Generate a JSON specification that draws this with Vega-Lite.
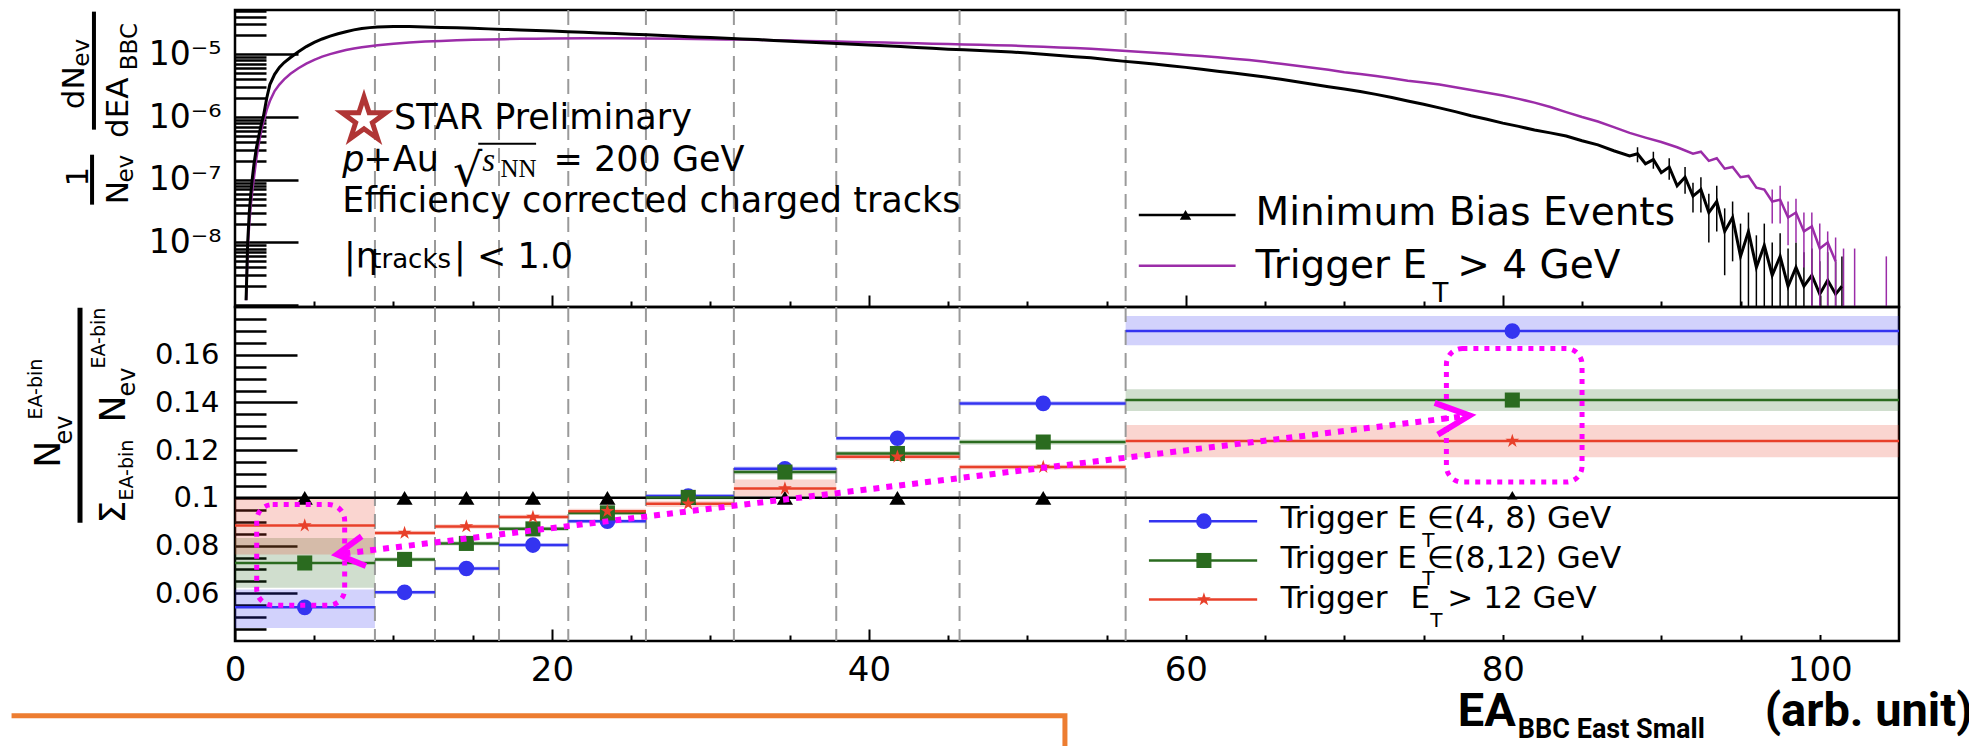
{
"$schema": "https://vega.github.io/schema/vega-lite/v6.json",
"padding": {"left": 0, "top": 7, "right": 0, "bottom": 0},
"background": "white",
"spacing": 0,
"bounds": "flush",
"config": {"view": {"stroke": "black", "strokeWidth": 2.5}, "axis": {"grid": false, "domain": false, "tickColor": "black", "labelColor": "black", "labelFont": "DejaVu Sans"}},
"datasets": {
"edges": [{"x":8.83},{"x":12.62},{"x":16.66},{"x":21.03},{"x":25.93},{"x":31.48},{"x":37.94},{"x":45.72},{"x":56.2}],
"black": [{"x":0.7,"y":1.2e-9},{"x":0.8,"y":1e-8},{"x":0.9,"y":3e-8},{"x":1.0,"y":6e-8},{"x":1.1,"y":1.1e-7},{"x":1.2,"y":1.8e-7},{"x":1.35,"y":3.2e-7},{"x":1.5,"y":5e-7},{"x":1.65,"y":7.5e-7},{"x":1.8,"y":1.05e-6},{"x":2.0,"y":2.0e-6},{"x":2.2,"y":3.3e-6},{"x":2.5,"y":4.8e-6},{"x":2.8,"y":6.2e-6},{"x":3.1,"y":7.4e-6},{"x":3.5,"y":8.9e-6},{"x":4.0,"y":1.1e-5},{"x":4.5,"y":1.33e-5},{"x":5.0,"y":1.55e-5},{"x":5.5,"y":1.76e-5},{"x":6.0,"y":1.95e-5},{"x":6.5,"y":2.13e-5},{"x":7.0,"y":2.3e-5},{"x":7.5,"y":2.46e-5},{"x":8.0,"y":2.58e-5},{"x":8.5,"y":2.67e-5},{"x":9.0,"y":2.73e-5},{"x":9.5,"y":2.76e-5},{"x":10,"y":2.78e-5},{"x":11,"y":2.77e-5},{"x":12,"y":2.73e-5},{"x":13,"y":2.69e-5},{"x":14,"y":2.65e-5},{"x":15,"y":2.6e-5},{"x":16,"y":2.55e-5},{"x":17,"y":2.5e-5},{"x":18,"y":2.45e-5},{"x":19,"y":2.4e-5},{"x":20,"y":2.35e-5},{"x":21,"y":2.3e-5},{"x":22,"y":2.25e-5},{"x":23,"y":2.2e-5},{"x":24,"y":2.15e-5},{"x":25,"y":2.1e-5},{"x":26,"y":2.05e-5},{"x":27,"y":2.0e-5},{"x":28,"y":1.95e-5},{"x":29,"y":1.9e-5},{"x":30,"y":1.86e-5},{"x":31,"y":1.81e-5},{"x":32,"y":1.76e-5},{"x":33,"y":1.72e-5},{"x":34,"y":1.67e-5},{"x":35,"y":1.62e-5},{"x":36,"y":1.58e-5},{"x":37,"y":1.53e-5},{"x":38,"y":1.49e-5},{"x":39,"y":1.45e-5},{"x":40,"y":1.41e-5},{"x":41,"y":1.37e-5},{"x":42,"y":1.33e-5},{"x":43,"y":1.29e-5},{"x":44,"y":1.25e-5},{"x":45,"y":1.21e-5},{"x":46,"y":1.18e-5},{"x":47,"y":1.15e-5},{"x":48,"y":1.12e-5},{"x":49,"y":1.09e-5},{"x":50,"y":1.05e-5},{"x":51,"y":1.0e-5},{"x":52,"y":9.6e-6},{"x":53,"y":9.2e-6},{"x":54,"y":8.8e-6},{"x":55,"y":8.3e-6},{"x":56,"y":7.8e-6},{"x":57,"y":7.4e-6},{"x":58,"y":7.0e-6},{"x":59,"y":6.6e-6},{"x":60,"y":6.2e-6},{"x":61,"y":5.8e-6},{"x":62,"y":5.4e-6},{"x":63,"y":5.05e-6},{"x":64,"y":4.7e-6},{"x":65,"y":4.35e-6},{"x":66,"y":4.0e-6},{"x":67,"y":3.65e-6},{"x":68,"y":3.35e-6},{"x":69,"y":3.05e-6},{"x":70,"y":2.8e-6},{"x":71,"y":2.55e-6},{"x":72,"y":2.3e-6},{"x":73,"y":2.05e-6},{"x":74,"y":1.8e-6},{"x":75,"y":1.6e-6},{"x":76,"y":1.4e-6},{"x":77,"y":1.22e-6},{"x":78,"y":1.05e-6},{"x":79,"y":9.2e-7},{"x":80,"y":8.0e-7},{"x":81,"y":7.1e-7},{"x":82,"y":6.2e-7},{"x":83,"y":5.6e-7},{"x":84,"y":5.0e-7},{"x":85,"y":4.2e-7},{"x":86,"y":3.6e-7},{"x":87,"y":2.9e-7},{"x":88,"y":2.4e-7},{"x":88.5,"y":2.6e-7},{"x":89,"y":1.8e-7},{"x":89.5,"y":2.1e-7},{"x":90,"y":1.3e-7},{"x":90.5,"y":1.6e-7},{"x":91,"y":8e-8},{"x":91.5,"y":1.1e-7},{"x":92,"y":5.5e-8},{"x":92.5,"y":7e-8},{"x":93,"y":3e-8},{"x":93.5,"y":4.5e-8},{"x":94,"y":1.5e-8},{"x":94.5,"y":2.5e-8},{"x":95,"y":6e-9},{"x":95.5,"y":1.5e-8},{"x":96,"y":4e-9},{"x":96.5,"y":9e-9},{"x":97,"y":3e-9},{"x":97.5,"y":6e-9},{"x":98,"y":2e-9},{"x":98.5,"y":4e-9},{"x":99,"y":2e-9},{"x":99.5,"y":3e-9},{"x":100,"y":1.5e-9},{"x":100.5,"y":2.5e-9},{"x":101,"y":1.5e-9},{"x":101.4,"y":2e-9}],
"purple": [{"x":0.7,"y":1.2e-9},{"x":0.8,"y":8e-9},{"x":0.9,"y":2e-8},{"x":1.0,"y":4e-8},{"x":1.1,"y":7e-8},{"x":1.2,"y":1.1e-7},{"x":1.35,"y":2.2e-7},{"x":1.5,"y":3.8e-7},{"x":1.65,"y":6e-7},{"x":1.8,"y":8.5e-7},{"x":2.0,"y":1.3e-6},{"x":2.2,"y":1.8e-6},{"x":2.5,"y":2.6e-6},{"x":2.8,"y":3.3e-6},{"x":3.1,"y":4.0e-6},{"x":3.5,"y":4.9e-6},{"x":4.0,"y":6.0e-6},{"x":4.5,"y":7.1e-6},{"x":5.0,"y":8.2e-6},{"x":5.5,"y":9.2e-6},{"x":6.0,"y":1.01e-5},{"x":6.5,"y":1.09e-5},{"x":7.0,"y":1.17e-5},{"x":7.5,"y":1.24e-5},{"x":8.0,"y":1.3e-5},{"x":8.5,"y":1.35e-5},{"x":9.0,"y":1.4e-5},{"x":10,"y":1.48e-5},{"x":11,"y":1.54e-5},{"x":12,"y":1.6e-5},{"x":13,"y":1.64e-5},{"x":14,"y":1.68e-5},{"x":15,"y":1.71e-5},{"x":16,"y":1.73e-5},{"x":17,"y":1.75e-5},{"x":18,"y":1.77e-5},{"x":19,"y":1.78e-5},{"x":20,"y":1.79e-5},{"x":22,"y":1.8e-5},{"x":24,"y":1.8e-5},{"x":26,"y":1.79e-5},{"x":28,"y":1.77e-5},{"x":30,"y":1.75e-5},{"x":31,"y":1.73e-5},{"x":32,"y":1.72e-5},{"x":33,"y":1.7e-5},{"x":34,"y":1.68e-5},{"x":35,"y":1.66e-5},{"x":36,"y":1.64e-5},{"x":37,"y":1.62e-5},{"x":38,"y":1.6e-5},{"x":39,"y":1.58e-5},{"x":40,"y":1.56e-5},{"x":41,"y":1.54e-5},{"x":42,"y":1.52e-5},{"x":43,"y":1.5e-5},{"x":44,"y":1.48e-5},{"x":45,"y":1.46e-5},{"x":46,"y":1.44e-5},{"x":47,"y":1.42e-5},{"x":48,"y":1.4e-5},{"x":49,"y":1.38e-5},{"x":50,"y":1.35e-5},{"x":51,"y":1.32e-5},{"x":52,"y":1.29e-5},{"x":53,"y":1.26e-5},{"x":54,"y":1.23e-5},{"x":55,"y":1.19e-5},{"x":56,"y":1.14e-5},{"x":57,"y":1.1e-5},{"x":58,"y":1.06e-5},{"x":59,"y":1.02e-5},{"x":60,"y":9.8e-6},{"x":61,"y":9.4e-6},{"x":62,"y":9.0e-6},{"x":63,"y":8.5e-6},{"x":64,"y":8.1e-6},{"x":65,"y":7.6e-6},{"x":66,"y":7.1e-6},{"x":67,"y":6.6e-6},{"x":68,"y":6.1e-6},{"x":69,"y":5.7e-6},{"x":70,"y":5.2e-6},{"x":71,"y":4.85e-6},{"x":72,"y":4.5e-6},{"x":73,"y":4.15e-6},{"x":74,"y":3.8e-6},{"x":75,"y":3.55e-6},{"x":76,"y":3.3e-6},{"x":77,"y":3.0e-6},{"x":78,"y":2.7e-6},{"x":79,"y":2.45e-6},{"x":80,"y":2.2e-6},{"x":81,"y":1.95e-6},{"x":82,"y":1.7e-6},{"x":83,"y":1.45e-6},{"x":84,"y":1.2e-6},{"x":85,"y":1.0e-6},{"x":86,"y":8.5e-7},{"x":87,"y":6.9e-7},{"x":88,"y":5.6e-7},{"x":89,"y":4.7e-7},{"x":90,"y":4.0e-7},{"x":91,"y":3.3e-7},{"x":92,"y":2.6e-7},{"x":92.5,"y":2.8e-7},{"x":93,"y":2.0e-7},{"x":93.5,"y":2.2e-7},{"x":94,"y":1.5e-7},{"x":94.5,"y":1.6e-7},{"x":95,"y":1.1e-7},{"x":95.5,"y":1.15e-7},{"x":96,"y":7.5e-8},{"x":96.5,"y":7e-8},{"x":97,"y":4.5e-8},{"x":97.5,"y":4.8e-8},{"x":98,"y":2.5e-8},{"x":98.5,"y":3e-8},{"x":99,"y":1.5e-8},{"x":99.5,"y":1.8e-8},{"x":100,"y":8e-9},{"x":100.5,"y":1e-8},{"x":101,"y":5e-9}],
"blackErr": [{"x":88.5,"lo":1.9e-7,"hi":3.3e-7},{"x":89.5,"lo":1.5e-7,"hi":2.8e-7},{"x":90.5,"lo":1.0e-7,"hi":2.2e-7},{"x":91.5,"lo":6e-8,"hi":1.6e-7},{"x":92,"lo":3e-8,"hi":9e-8},{"x":92.5,"lo":3e-8,"hi":1.1e-7},{"x":93,"lo":1e-8,"hi":6e-8},{"x":93.5,"lo":1.5e-8,"hi":8e-8},{"x":94,"lo":3e-9,"hi":3.5e-8},{"x":94.5,"lo":5e-9,"hi":4.5e-8},{"x":95,"lo":9e-10,"hi":2e-8},{"x":95.5,"lo":9e-10,"hi":3e-8},{"x":96,"lo":9e-10,"hi":1.3e-8},{"x":96.5,"lo":9e-10,"hi":2e-8},{"x":97,"lo":9e-10,"hi":1e-8},{"x":97.5,"lo":9e-10,"hi":1.4e-8},{"x":98,"lo":9e-10,"hi":8e-9},{"x":98.5,"lo":9e-10,"hi":1e-8},{"x":99,"lo":9e-10,"hi":7e-9},{"x":99.5,"lo":9e-10,"hi":8e-9},{"x":100,"lo":9e-10,"hi":5e-9},{"x":100.5,"lo":9e-10,"hi":7e-9},{"x":101,"lo":9e-10,"hi":5e-9},{"x":101.4,"lo":9e-10,"hi":6e-9}],
"purpleErr": [{"x":97,"lo":2e-8,"hi":7e-8},{"x":97.5,"lo":2e-8,"hi":8e-8},{"x":98,"lo":9e-9,"hi":4.5e-8},{"x":98.5,"lo":1e-8,"hi":5e-8},{"x":99,"lo":4e-9,"hi":3e-8},{"x":99.5,"lo":9e-10,"hi":3e-8},{"x":100,"lo":9e-10,"hi":2e-8},{"x":100.5,"lo":9e-10,"hi":1.5e-8},{"x":101,"lo":9e-10,"hi":1.2e-8},{"x":101.5,"lo":9e-10,"hi":8e-9},{"x":102.2,"lo":9e-10,"hi":8e-9},{"x":104.2,"lo":9e-10,"hi":6e-9}],
"logo": [{"x":8.14,"y":9.0e-7}],
"tTop35": [{"x":10.03,"y":6.37e-7,"t":"STAR Preliminary"},{"x":8.1,"y":1.38e-7,"t":"+Au"},{"x":20.1,"y":1.38e-7,"t":"= 200 GeV"},{"x":6.77,"y":3.02e-8,"t":"Efficiency corrected charged tracks"},{"x":6.88,"y":3.86e-9,"t":"|η"},{"x":13.82,"y":3.86e-9,"t":"| < 1.0"}],
"tTopP": [{"x":6.77,"y":1.38e-7,"t":"p"}],
"tTopSqrt": [{"x":13.75,"y":8.05e-8,"t":"√"}],
"tTopS": [{"x":15.6,"y":1.38e-7,"t":"s"}],
"tTopNN": [{"x":16.75,"y":1.12e-7,"t":"NN"}],
"tTopTracks": [{"x":8.6,"y":3.86e-9,"t":"tracks"}],
"vinc": [{"x":15.35,"x2":19.0,"y":3.77e-7}],
"legTopLines": [{"s":"MB","x":57.03,"x2":63.14,"y":2.75e-8},{"s":"T4","x":57.03,"x2":63.14,"y":4.27e-9}],
"legTopTri": [{"x":59.98,"y":2.75e-8}],
"legTopText": [{"x":64.4,"y":1.9e-8,"t":"Minimum Bias Events"},{"x":64.4,"y":2.75e-9,"t":"Trigger E"},{"x":77.12,"y":2.75e-9,"t":"> 4 GeV"}],
"legTopSub": [{"x":76.07,"y":1.14e-9,"t":"T"}],
"yTopBig": [{"x":-10.09,"y":2.94e-6,"t":"dN"},{"x":-7.32,"y":1.41e-6,"t":"dEA"},{"x":-9.84,"y":1.12e-7,"t":"1"},{"x":-7.32,"y":6.22e-8,"t":"N"}],
"yTopSmall": [{"x":-9.65,"y":1.06e-5,"t":"ev"},{"x":-6.62,"y":1.33e-5,"t":"BBC"},{"x":-6.88,"y":1.5e-7,"t":"ev"}],
"yTopBars": [{"x":-8.9,"y":4.8e-5,"y2":6.3e-7},{"x":-9.02,"y":2.51e-7,"y2":4.01e-8}],
"bins": [
{"s":"T48","lo":0,"hi":8.83,"c":4.4,"v":0.0541,"bl":0.0454,"bh":0.0616},
{"s":"T48","lo":8.83,"hi":12.62,"c":10.7,"v":0.0604,"bl":0.0596,"bh":0.0612},
{"s":"T48","lo":12.62,"hi":16.66,"c":14.6,"v":0.0704,"bl":0.0696,"bh":0.0712},
{"s":"T48","lo":16.66,"hi":21.03,"c":18.8,"v":0.0802,"bl":0.0794,"bh":0.081},
{"s":"T48","lo":21.03,"hi":25.93,"c":23.5,"v":0.0902,"bl":0.0894,"bh":0.091},
{"s":"T48","lo":25.93,"hi":31.48,"c":28.6,"v":0.1008,"bl":0.1,"bh":0.1016},
{"s":"T48","lo":31.48,"hi":37.94,"c":34.7,"v":0.1122,"bl":0.1113,"bh":0.1131},
{"s":"T48","lo":37.94,"hi":45.72,"c":41.8,"v":0.125,"bl":0.1241,"bh":0.1259},
{"s":"T48","lo":45.72,"hi":56.2,"c":51.0,"v":0.1396,"bl":0.1386,"bh":0.1406},
{"s":"T48","lo":56.2,"hi":105,"c":80.6,"v":0.1699,"bl":0.164,"bh":0.1762},
{"s":"T812","lo":0,"hi":8.83,"c":4.4,"v":0.0727,"bl":0.0623,"bh":0.0832},
{"s":"T812","lo":8.83,"hi":12.62,"c":10.7,"v":0.0742,"bl":0.0733,"bh":0.0751},
{"s":"T812","lo":12.62,"hi":16.66,"c":14.6,"v":0.0809,"bl":0.08,"bh":0.0818},
{"s":"T812","lo":16.66,"hi":21.03,"c":18.8,"v":0.087,"bl":0.0861,"bh":0.0879},
{"s":"T812","lo":21.03,"hi":25.93,"c":23.5,"v":0.0937,"bl":0.0928,"bh":0.0946},
{"s":"T812","lo":25.93,"hi":31.48,"c":28.6,"v":0.1002,"bl":0.0993,"bh":0.1011},
{"s":"T812","lo":31.48,"hi":37.94,"c":34.7,"v":0.1108,"bl":0.1098,"bh":0.1118},
{"s":"T812","lo":37.94,"hi":45.72,"c":41.8,"v":0.1186,"bl":0.1176,"bh":0.1196},
{"s":"T812","lo":45.72,"hi":56.2,"c":51.0,"v":0.1234,"bl":0.1223,"bh":0.1245},
{"s":"T812","lo":56.2,"hi":105,"c":80.6,"v":0.141,"bl":0.1364,"bh":0.1455},
{"s":"T12","lo":0,"hi":8.83,"c":4.4,"v":0.0884,"bl":0.0763,"bh":0.1},
{"s":"T12","lo":8.83,"hi":12.62,"c":10.7,"v":0.0853,"bl":0.0844,"bh":0.0862},
{"s":"T12","lo":12.62,"hi":16.66,"c":14.6,"v":0.088,"bl":0.0871,"bh":0.0889},
{"s":"T12","lo":16.66,"hi":21.03,"c":18.8,"v":0.092,"bl":0.0911,"bh":0.0929},
{"s":"T12","lo":21.03,"hi":25.93,"c":23.5,"v":0.0944,"bl":0.0934,"bh":0.0954},
{"s":"T12","lo":25.93,"hi":31.48,"c":28.6,"v":0.0975,"bl":0.0962,"bh":0.0988},
{"s":"T12","lo":31.48,"hi":37.94,"c":34.7,"v":0.1039,"bl":0.1007,"bh":0.1077},
{"s":"T12","lo":37.94,"hi":45.72,"c":41.8,"v":0.1172,"bl":0.1161,"bh":0.1183},
{"s":"T12","lo":45.72,"hi":56.2,"c":51.0,"v":0.1129,"bl":0.1119,"bh":0.1139},
{"s":"T12","lo":56.2,"hi":105,"c":80.6,"v":0.1238,"bl":0.117,"bh":0.1305}],
"mb": [{"s":"MB","lo":0,"hi":8.83,"c":4.4,"v":0.1},{"s":"MB","lo":8.83,"hi":12.62,"c":10.7,"v":0.1},{"s":"MB","lo":12.62,"hi":16.66,"c":14.6,"v":0.1},{"s":"MB","lo":16.66,"hi":21.03,"c":18.8,"v":0.1},{"s":"MB","lo":21.03,"hi":25.93,"c":23.5,"v":0.1},{"s":"MB","lo":25.93,"hi":31.48,"c":28.6,"v":0.1},{"s":"MB","lo":31.48,"hi":37.94,"c":34.7,"v":0.1},{"s":"MB","lo":37.94,"hi":45.72,"c":41.8,"v":0.1},{"s":"MB","lo":45.72,"hi":56.2,"c":51.0,"v":0.1},{"s":"MB","lo":56.2,"hi":105,"c":80.6,"v":0.1}],
"legBox": [{"x":56.45,"x2":104.85,"y":0.0425,"y2":0.0993}],
"legBotLines": [{"s":"T48","x":57.67,"x2":64.5,"y":0.09023,"c":61.14},{"s":"T812","x":57.67,"x2":64.5,"y":0.07375,"c":61.14},{"s":"T12","x":57.67,"x2":64.5,"y":0.0574,"c":61.14}],
"legBotText": [{"x":65.97,"y":0.08742,"t":"Trigger E"},{"x":75.2,"y":0.08742,"t":"∈(4, 8) GeV"},{"x":65.97,"y":0.0704,"t":"Trigger E"},{"x":75.2,"y":0.0704,"t":"∈(8,12) GeV"},{"x":65.97,"y":0.05388,"t":"Trigger"},{"x":74.17,"y":0.05388,"t":"E"},{"x":76.5,"y":0.05388,"t":"> 12 GeV"}],
"legBotSub": [{"x":75.3,"y":0.0793,"t":"T"},{"x":75.3,"y":0.0634,"t":"T"},{"x":75.8,"y":0.0458,"t":"T"}],
"magBox": [{"x":1.37,"x2":6.92,"y":0.055,"y2":0.0972},{"x":76.44,"x2":85.0,"y":0.1066,"y2":0.1626}],
"magLine": [{"x":6.9,"y":0.07667},{"x":77.4,"y":0.13409}],
"magChev": [{"g":"L","o":1,"x":7.99,"y":0.0839},{"g":"L","o":2,"x":6.44,"y":0.0763},{"g":"L","o":3,"x":8.26,"y":0.0714},{"g":"R","o":1,"x":75.7,"y":0.1398},{"g":"R","o":2,"x":77.9,"y":0.1345},{"g":"R","o":3,"x":75.9,"y":0.1265}],
"orange": [{"o":1,"x":-14.1,"y":0.00868},{"o":2,"x":52.37,"y":0.00868},{"o":3,"x":52.37,"y":-0.0046}],
"xTitleBig": [{"x":80.82,"y":0.00428,"t":"EA"},{"x":109.65,"y":0.00428,"t":"(arb. unit)"}],
"xTitleSub": [{"x":80.95,"y":-0.00063,"t":"BBC East Small"}],
"yBotBig": [{"x":-11.74,"y":0.1183,"t":"N"},{"x":-7.63,"y":0.13719,"t":"N"},{"x":-7.63,"y":0.094,"t":"Σ"}],
"yBotEv": [{"x":-10.73,"y":0.12839,"t":"ev"},{"x":-6.75,"y":0.14851,"t":"ev"}],
"yBotEA": [{"x":-12.56,"y":0.14558,"t":"EA-bin"},{"x":-6.81,"y":0.11161,"t":"EA-bin"},{"x":-8.58,"y":0.16696,"t":"EA-bin"}],
"yBotBar": [{"x":-9.78,"y":0.17967,"y2":0.08952}]
},
"vconcat": [
{
"width": 1664, "height": 297,
"resolve": {"axis": {"x": "independent", "y": "independent"}},
"layer": [
{"data": {"name": "edges"}, "mark": {"type": "rule", "stroke": "#9a9a9a", "strokeWidth": 2, "strokeDash": [15, 8]},
 "encoding": {"x": {"field": "x", "type": "quantitative", "scale": {"domain": [0, 105], "nice": false, "zero": false}, "axis": null}}},
{"data": {"name": "purple"}, "mark": {"type": "line", "stroke": "#9b2ca8", "strokeWidth": 2.5, "clip": true},
 "encoding": {
  "x": {"field": "x", "type": "quantitative", "scale": {"domain": [0, 105], "nice": false, "zero": false},
        "axis": {"orient": "bottom", "values": [20, 40, 60, 80, 100], "labels": false, "tickSize": -12, "tickWidth": 2, "title": null}},
  "y": {"field": "y", "type": "quantitative", "scale": {"type": "log", "domain": [9.35e-10, 5.1e-5], "nice": false},
        "axis": {"orient": "left", "values": [1e-9, 1e-8, 1e-7, 1e-6, 1e-5], "tickSize": -63, "tickWidth": 2.5, "labelPadding": 77, "labelFontSize": 33, "labelOverlap": false, "title": null,
                 "labelExpr": "datum.value > 5e-6 ? '10⁻⁵' : datum.value > 5e-7 ? '10⁻⁶' : datum.value > 5e-8 ? '10⁻⁷' : datum.value > 5e-9 ? '10⁻⁸' : ''"}}}},
{"data": {"name": "black"}, "mark": {"type": "line", "stroke": "black", "strokeWidth": 3, "clip": true},
 "encoding": {
  "x": {"field": "x", "type": "quantitative", "scale": {"domain": [0, 105], "nice": false, "zero": false},
        "axis": {"orient": "bottom", "values": [5,10,15,25,30,35,45,50,55,65,70,75,85,90,95], "labels": false, "tickSize": -6, "tickWidth": 2, "title": null}},
  "y": {"field": "y", "type": "quantitative", "scale": {"type": "log", "domain": [9.35e-10, 5.1e-5], "nice": false},
        "axis": {"orient": "left", "values": [2e-9,3e-9,4e-9,5e-9,6e-9,7e-9,8e-9,9e-9,2e-8,3e-8,4e-8,5e-8,6e-8,7e-8,8e-8,9e-8,2e-7,3e-7,4e-7,5e-7,6e-7,7e-7,8e-7,9e-7,2e-6,3e-6,4e-6,5e-6,6e-6,7e-6,8e-6,9e-6,2e-5,3e-5,4e-5,5e-5], "labels": false, "tickSize": -31, "tickWidth": 2.5, "title": null}}}},
{"data": {"name": "blackErr"}, "mark": {"type": "rule", "stroke": "black", "strokeWidth": 1.5, "clip": true},
 "encoding": {"x": {"field": "x", "type": "quantitative", "scale": {"domain": [0, 105], "nice": false, "zero": false}, "axis": null},
  "y": {"field": "lo", "type": "quantitative", "scale": {"type": "log", "domain": [9.35e-10, 5.1e-5], "nice": false}, "axis": null}, "y2": {"field": "hi"}}},
{"data": {"name": "purpleErr"}, "mark": {"type": "rule", "stroke": "#9b2ca8", "strokeWidth": 1.5, "clip": true},
 "encoding": {"x": {"field": "x", "type": "quantitative", "scale": {"domain": [0, 105], "nice": false, "zero": false}, "axis": null},
  "y": {"field": "lo", "type": "quantitative", "scale": {"type": "log", "domain": [9.35e-10, 5.1e-5], "nice": false}, "axis": null}, "y2": {"field": "hi"}}},
{"data": {"name": "logo"}, "mark": {"type": "point", "shape": "M0,-1L0.2245,-0.309L0.951,-0.309L0.3633,0.118L0.588,0.809L0,0.382L-0.588,0.809L-0.3633,0.118L-0.951,-0.309L-0.2245,-0.309Z", "size": 2116, "filled": true, "fill": "white", "stroke": "#b03535", "strokeWidth": 5, "opacity": 1},
 "encoding": {"x": {"field": "x", "type": "quantitative", "scale": {"domain": [0, 105], "nice": false, "zero": false}, "axis": null},
  "y": {"field": "y", "type": "quantitative", "scale": {"type": "log", "domain": [9.35e-10, 5.1e-5], "nice": false}, "axis": null}}},
{"data": {"name": "tTop35"}, "mark": {"type": "text", "font": "DejaVu Sans", "fontSize": 35, "align": "left", "baseline": "alphabetic", "fill": "black"},
 "encoding": {"x": {"field": "x", "type": "quantitative", "scale": {"domain": [0, 105], "nice": false, "zero": false}, "axis": null},
  "y": {"field": "y", "type": "quantitative", "scale": {"type": "log", "domain": [9.35e-10, 5.1e-5], "nice": false}, "axis": null}, "text": {"field": "t"}}},
{"data": {"name": "tTopP"}, "mark": {"type": "text", "font": "DejaVu Sans", "fontStyle": "italic", "fontSize": 35, "align": "left", "baseline": "alphabetic", "fill": "black"},
 "encoding": {"x": {"field": "x", "type": "quantitative", "scale": {"domain": [0, 105], "nice": false, "zero": false}, "axis": null},
  "y": {"field": "y", "type": "quantitative", "scale": {"type": "log", "domain": [9.35e-10, 5.1e-5], "nice": false}, "axis": null}, "text": {"field": "t"}}},
{"data": {"name": "tTopSqrt"}, "mark": {"type": "text", "font": "DejaVu Sans", "fontSize": 46, "align": "left", "baseline": "alphabetic", "fill": "black"},
 "encoding": {"x": {"field": "x", "type": "quantitative", "scale": {"domain": [0, 105], "nice": false, "zero": false}, "axis": null},
  "y": {"field": "y", "type": "quantitative", "scale": {"type": "log", "domain": [9.35e-10, 5.1e-5], "nice": false}, "axis": null}, "text": {"field": "t"}}},
{"data": {"name": "tTopS"}, "mark": {"type": "text", "font": "Liberation Serif", "fontStyle": "italic", "fontSize": 33, "align": "left", "baseline": "alphabetic", "fill": "black"},
 "encoding": {"x": {"field": "x", "type": "quantitative", "scale": {"domain": [0, 105], "nice": false, "zero": false}, "axis": null},
  "y": {"field": "y", "type": "quantitative", "scale": {"type": "log", "domain": [9.35e-10, 5.1e-5], "nice": false}, "axis": null}, "text": {"field": "t"}}},
{"data": {"name": "tTopNN"}, "mark": {"type": "text", "font": "Liberation Serif", "fontSize": 25, "align": "left", "baseline": "alphabetic", "fill": "black"},
 "encoding": {"x": {"field": "x", "type": "quantitative", "scale": {"domain": [0, 105], "nice": false, "zero": false}, "axis": null},
  "y": {"field": "y", "type": "quantitative", "scale": {"type": "log", "domain": [9.35e-10, 5.1e-5], "nice": false}, "axis": null}, "text": {"field": "t"}}},
{"data": {"name": "tTopTracks"}, "mark": {"type": "text", "font": "DejaVu Sans", "fontSize": 26, "align": "left", "baseline": "alphabetic", "fill": "black"},
 "encoding": {"x": {"field": "x", "type": "quantitative", "scale": {"domain": [0, 105], "nice": false, "zero": false}, "axis": null},
  "y": {"field": "y", "type": "quantitative", "scale": {"type": "log", "domain": [9.35e-10, 5.1e-5], "nice": false}, "axis": null}, "text": {"field": "t"}}},
{"data": {"name": "vinc"}, "mark": {"type": "rule", "stroke": "black", "strokeWidth": 2},
 "encoding": {"x": {"field": "x", "type": "quantitative", "scale": {"domain": [0, 105], "nice": false, "zero": false}, "axis": null}, "x2": {"field": "x2"},
  "y": {"field": "y", "type": "quantitative", "scale": {"type": "log", "domain": [9.35e-10, 5.1e-5], "nice": false}, "axis": null}}},
{"data": {"name": "legTopLines"}, "mark": {"type": "rule", "strokeWidth": 2.5},
 "encoding": {"x": {"field": "x", "type": "quantitative", "scale": {"domain": [0, 105], "nice": false, "zero": false}, "axis": null}, "x2": {"field": "x2"},
  "y": {"field": "y", "type": "quantitative", "scale": {"type": "log", "domain": [9.35e-10, 5.1e-5], "nice": false}, "axis": null},
  "color": {"field": "s", "type": "nominal", "scale": {"domain": ["MB", "T4", "T48", "T812", "T12"], "range": ["#000000", "#9b2ca8", "#3434f0", "#2a6b1f", "#e8402a"]}, "legend": null}}},
{"data": {"name": "legTopTri"}, "mark": {"type": "point", "shape": "triangle-up", "size": 130, "filled": true, "fill": "black", "opacity": 1},
 "encoding": {"x": {"field": "x", "type": "quantitative", "scale": {"domain": [0, 105], "nice": false, "zero": false}, "axis": null},
  "y": {"field": "y", "type": "quantitative", "scale": {"type": "log", "domain": [9.35e-10, 5.1e-5], "nice": false}, "axis": null}}},
{"data": {"name": "legTopText"}, "mark": {"type": "text", "font": "DejaVu Sans", "fontSize": 39, "align": "left", "baseline": "alphabetic", "fill": "black"},
 "encoding": {"x": {"field": "x", "type": "quantitative", "scale": {"domain": [0, 105], "nice": false, "zero": false}, "axis": null},
  "y": {"field": "y", "type": "quantitative", "scale": {"type": "log", "domain": [9.35e-10, 5.1e-5], "nice": false}, "axis": null}, "text": {"field": "t"}}},
{"data": {"name": "legTopSub"}, "mark": {"type": "text", "font": "DejaVu Sans", "fontSize": 26, "align": "center", "baseline": "alphabetic", "fill": "black"},
 "encoding": {"x": {"field": "x", "type": "quantitative", "scale": {"domain": [0, 105], "nice": false, "zero": false}, "axis": null},
  "y": {"field": "y", "type": "quantitative", "scale": {"type": "log", "domain": [9.35e-10, 5.1e-5], "nice": false}, "axis": null}, "text": {"field": "t"}}},
{"data": {"name": "yTopBig"}, "mark": {"type": "text", "font": "DejaVu Sans", "fontSize": 31, "angle": 270, "align": "center", "baseline": "middle", "fill": "black"},
 "encoding": {"x": {"field": "x", "type": "quantitative", "scale": {"domain": [0, 105], "nice": false, "zero": false}, "axis": null},
  "y": {"field": "y", "type": "quantitative", "scale": {"type": "log", "domain": [9.35e-10, 5.1e-5], "nice": false}, "axis": null}, "text": {"field": "t"}}},
{"data": {"name": "yTopSmall"}, "mark": {"type": "text", "font": "DejaVu Sans", "fontSize": 23, "angle": 270, "align": "center", "baseline": "middle", "fill": "black"},
 "encoding": {"x": {"field": "x", "type": "quantitative", "scale": {"domain": [0, 105], "nice": false, "zero": false}, "axis": null},
  "y": {"field": "y", "type": "quantitative", "scale": {"type": "log", "domain": [9.35e-10, 5.1e-5], "nice": false}, "axis": null}, "text": {"field": "t"}}},
{"data": {"name": "yTopBars"}, "mark": {"type": "rule", "stroke": "black", "strokeWidth": 4},
 "encoding": {"x": {"field": "x", "type": "quantitative", "scale": {"domain": [0, 105], "nice": false, "zero": false}, "axis": null},
  "y": {"field": "y", "type": "quantitative", "scale": {"type": "log", "domain": [9.35e-10, 5.1e-5], "nice": false}, "axis": null}, "y2": {"field": "y2"}}}
]
},
{
"width": 1664, "height": 334,
"resolve": {"axis": {"x": "independent", "y": "independent"}},
"layer": [
{"data": {"name": "bins"}, "mark": {"type": "rect", "opacity": 0.22},
 "encoding": {
  "x": {"field": "lo", "type": "quantitative", "scale": {"domain": [0, 105], "nice": false, "zero": false},
        "axis": {"orient": "bottom", "values": [0, 20, 40, 60, 80, 100], "tickSize": -12, "tickWidth": 2, "labelFontSize": 34, "labelPadding": 24, "labelFlush": false, "labelOverlap": false, "title": null}},
  "x2": {"field": "hi"},
  "y": {"field": "bl", "type": "quantitative", "scale": {"domain": [0.04, 0.18], "nice": false, "zero": false},
        "axis": {"orient": "left", "values": [0.06, 0.08, 0.1, 0.12, 0.14, 0.16], "tickSize": -62, "tickWidth": 2.5, "labelPadding": 78, "labelFontSize": 29, "labelOverlap": false, "title": null,
                 "labelExpr": "format(datum.value, '.2~f')"}},
  "y2": {"field": "bh"},
  "color": {"field": "s", "type": "nominal", "scale": {"domain": ["MB", "T4", "T48", "T812", "T12"], "range": ["#000000", "#9b2ca8", "#3434f0", "#2a6b1f", "#e8402a"]}, "legend": null}}},
{"data": {"name": "edges"}, "mark": {"type": "rule", "stroke": "#9a9a9a", "strokeWidth": 2, "strokeDash": [15, 8]},
 "encoding": {"x": {"field": "x", "type": "quantitative", "scale": {"domain": [0, 105], "nice": false, "zero": false}, "axis": null}}},
{"data": {"name": "mb"}, "mark": {"type": "rule", "strokeWidth": 2.5},
 "encoding": {"x": {"field": "lo", "type": "quantitative", "scale": {"domain": [0, 105], "nice": false, "zero": false},
        "axis": {"orient": "bottom", "values": [5,10,15,25,30,35,45,50,55,65,70,75,85,90,95], "labels": false, "tickSize": -6, "tickWidth": 2, "title": null}},
  "x2": {"field": "hi"},
  "y": {"field": "v", "type": "quantitative", "scale": {"domain": [0.04, 0.18], "nice": false, "zero": false}, "axis": null},
  "color": {"field": "s", "type": "nominal", "scale": {"domain": ["MB", "T4", "T48", "T812", "T12"], "range": ["#000000", "#9b2ca8", "#3434f0", "#2a6b1f", "#e8402a"]}, "legend": null}}},
{"data": {"name": "bins"}, "mark": {"type": "rule", "strokeWidth": 2.5},
 "encoding": {"x": {"field": "lo", "type": "quantitative", "scale": {"domain": [0, 105], "nice": false, "zero": false}, "axis": null}, "x2": {"field": "hi"},
  "y": {"field": "v", "type": "quantitative", "scale": {"domain": [0.04, 0.18], "nice": false, "zero": false},
        "axis": {"orient": "left", "values": [0.045,0.05,0.055,0.065,0.07,0.075,0.085,0.09,0.095,0.105,0.11,0.115,0.125,0.13,0.135,0.145,0.15,0.155,0.165,0.17,0.175], "labels": false, "tickSize": -31, "tickWidth": 2.5, "title": null}},
  "color": {"field": "s", "type": "nominal", "scale": {"domain": ["MB", "T4", "T48", "T812", "T12"], "range": ["#000000", "#9b2ca8", "#3434f0", "#2a6b1f", "#e8402a"]}, "legend": null}}},
{"data": {"name": "mb"}, "mark": {"type": "point", "filled": true, "opacity": 1, "shape": "triangle-up", "size": 260},
 "encoding": {"x": {"field": "c", "type": "quantitative", "scale": {"domain": [0, 105], "nice": false, "zero": false}, "axis": null},
  "y": {"field": "v", "type": "quantitative", "scale": {"domain": [0.04, 0.18], "nice": false, "zero": false}, "axis": null},
  "color": {"field": "s", "type": "nominal", "scale": {"domain": ["MB", "T4", "T48", "T812", "T12"], "range": ["#000000", "#9b2ca8", "#3434f0", "#2a6b1f", "#e8402a"]}, "legend": null}}},
{"data": {"name": "bins"}, "mark": {"type": "point", "filled": true, "opacity": 1},
 "encoding": {"x": {"field": "c", "type": "quantitative", "scale": {"domain": [0, 105], "nice": false, "zero": false}, "axis": null},
  "y": {"field": "v", "type": "quantitative", "scale": {"domain": [0.04, 0.18], "nice": false, "zero": false}, "axis": null},
  "color": {"field": "s", "type": "nominal", "scale": {"domain": ["MB", "T4", "T48", "T812", "T12"], "range": ["#000000", "#9b2ca8", "#3434f0", "#2a6b1f", "#e8402a"]}, "legend": null},
  "shape": {"field": "s", "type": "nominal", "scale": {"domain": ["MB", "T48", "T812", "T12"], "range": ["triangle-up", "circle", "square", "M0,-1L0.2245,-0.309L0.951,-0.309L0.3633,0.118L0.588,0.809L0,0.382L-0.588,0.809L-0.3633,0.118L-0.951,-0.309L-0.2245,-0.309Z"]}, "legend": null},
  "size": {"field": "s", "type": "ordinal", "scale": {"domain": ["MB", "T48", "T812", "T12"], "range": [260, 210, 250, 480]}, "legend": null}}},
{"data": {"name": "legBox"}, "mark": {"type": "rect", "fill": "white"},
 "encoding": {"x": {"field": "x", "type": "quantitative", "scale": {"domain": [0, 105], "nice": false, "zero": false}, "axis": null}, "x2": {"field": "x2"},
  "y": {"field": "y", "type": "quantitative", "scale": {"domain": [0.04, 0.18], "nice": false, "zero": false}, "axis": null}, "y2": {"field": "y2"}}},
{"data": {"name": "legBotLines"}, "mark": {"type": "rule", "strokeWidth": 2.5},
 "encoding": {"x": {"field": "x", "type": "quantitative", "scale": {"domain": [0, 105], "nice": false, "zero": false}, "axis": null}, "x2": {"field": "x2"},
  "y": {"field": "y", "type": "quantitative", "scale": {"domain": [0.04, 0.18], "nice": false, "zero": false}, "axis": null},
  "color": {"field": "s", "type": "nominal", "scale": {"domain": ["MB", "T4", "T48", "T812", "T12"], "range": ["#000000", "#9b2ca8", "#3434f0", "#2a6b1f", "#e8402a"]}, "legend": null}}},
{"data": {"name": "legBotLines"}, "mark": {"type": "point", "filled": true, "opacity": 1},
 "encoding": {"x": {"field": "c", "type": "quantitative", "scale": {"domain": [0, 105], "nice": false, "zero": false}, "axis": null},
  "y": {"field": "y", "type": "quantitative", "scale": {"domain": [0.04, 0.18], "nice": false, "zero": false}, "axis": null},
  "color": {"field": "s", "type": "nominal", "scale": {"domain": ["MB", "T4", "T48", "T812", "T12"], "range": ["#000000", "#9b2ca8", "#3434f0", "#2a6b1f", "#e8402a"]}, "legend": null},
  "shape": {"field": "s", "type": "nominal", "scale": {"domain": ["MB", "T48", "T812", "T12"], "range": ["triangle-up", "circle", "square", "M0,-1L0.2245,-0.309L0.951,-0.309L0.3633,0.118L0.588,0.809L0,0.382L-0.588,0.809L-0.3633,0.118L-0.951,-0.309L-0.2245,-0.309Z"]}, "legend": null},
  "size": {"field": "s", "type": "ordinal", "scale": {"domain": ["MB", "T48", "T812", "T12"], "range": [260, 210, 250, 480]}, "legend": null}}},
{"data": {"name": "legBotText"}, "mark": {"type": "text", "font": "DejaVu Sans", "fontSize": 31, "align": "left", "baseline": "alphabetic", "fill": "black"},
 "encoding": {"x": {"field": "x", "type": "quantitative", "scale": {"domain": [0, 105], "nice": false, "zero": false}, "axis": null},
  "y": {"field": "y", "type": "quantitative", "scale": {"domain": [0.04, 0.18], "nice": false, "zero": false}, "axis": null}, "text": {"field": "t"}}},
{"data": {"name": "legBotSub"}, "mark": {"type": "text", "font": "DejaVu Sans", "fontSize": 20, "align": "center", "baseline": "alphabetic", "fill": "black"},
 "encoding": {"x": {"field": "x", "type": "quantitative", "scale": {"domain": [0, 105], "nice": false, "zero": false}, "axis": null},
  "y": {"field": "y", "type": "quantitative", "scale": {"domain": [0.04, 0.18], "nice": false, "zero": false}, "axis": null}, "text": {"field": "t"}}},
{"data": {"name": "magBox"}, "mark": {"type": "rect", "fill": "white", "fillOpacity": 0, "stroke": "#ff00ff", "strokeWidth": 5, "strokeDash": [5, 6], "cornerRadius": 16},
 "encoding": {"x": {"field": "x", "type": "quantitative", "scale": {"domain": [0, 105], "nice": false, "zero": false}, "axis": null}, "x2": {"field": "x2"},
  "y": {"field": "y", "type": "quantitative", "scale": {"domain": [0.04, 0.18], "nice": false, "zero": false}, "axis": null}, "y2": {"field": "y2"}}},
{"data": {"name": "magLine"}, "mark": {"type": "line", "stroke": "#ff00ff", "strokeWidth": 6, "strokeDash": [6, 7], "strokeCap": "butt"},
 "encoding": {"x": {"field": "x", "type": "quantitative", "scale": {"domain": [0, 105], "nice": false, "zero": false}, "axis": null},
  "y": {"field": "y", "type": "quantitative", "scale": {"domain": [0.04, 0.18], "nice": false, "zero": false}, "axis": null}}},
{"data": {"name": "magChev"}, "mark": {"type": "line", "stroke": "#ff00ff", "strokeWidth": 6, "strokeCap": "butt", "strokeJoin": "miter"},
 "encoding": {"x": {"field": "x", "type": "quantitative", "scale": {"domain": [0, 105], "nice": false, "zero": false}, "axis": null},
  "y": {"field": "y", "type": "quantitative", "scale": {"domain": [0.04, 0.18], "nice": false, "zero": false}, "axis": null},
  "detail": {"field": "g", "type": "nominal"}, "order": {"field": "o", "type": "quantitative"}}},
{"data": {"name": "yBotBig"}, "mark": {"type": "text", "font": "DejaVu Sans", "fontSize": 36, "angle": 270, "align": "center", "baseline": "middle", "fill": "black"},
 "encoding": {"x": {"field": "x", "type": "quantitative", "scale": {"domain": [0, 105], "nice": false, "zero": false}, "axis": null},
  "y": {"field": "y", "type": "quantitative", "scale": {"domain": [0.04, 0.18], "nice": false, "zero": false}, "axis": null}, "text": {"field": "t"}}},
{"data": {"name": "yBotEv"}, "mark": {"type": "text", "font": "DejaVu Sans", "fontSize": 24, "angle": 270, "align": "center", "baseline": "middle", "fill": "black"},
 "encoding": {"x": {"field": "x", "type": "quantitative", "scale": {"domain": [0, 105], "nice": false, "zero": false}, "axis": null},
  "y": {"field": "y", "type": "quantitative", "scale": {"domain": [0.04, 0.18], "nice": false, "zero": false}, "axis": null}, "text": {"field": "t"}}},
{"data": {"name": "yBotEA"}, "mark": {"type": "text", "font": "DejaVu Sans", "fontSize": 19, "angle": 270, "align": "center", "baseline": "middle", "fill": "black"},
 "encoding": {"x": {"field": "x", "type": "quantitative", "scale": {"domain": [0, 105], "nice": false, "zero": false}, "axis": null},
  "y": {"field": "y", "type": "quantitative", "scale": {"domain": [0.04, 0.18], "nice": false, "zero": false}, "axis": null}, "text": {"field": "t"}}},
{"data": {"name": "yBotBar"}, "mark": {"type": "rule", "stroke": "black", "strokeWidth": 5},
 "encoding": {"x": {"field": "x", "type": "quantitative", "scale": {"domain": [0, 105], "nice": false, "zero": false}, "axis": null},
  "y": {"field": "y", "type": "quantitative", "scale": {"domain": [0.04, 0.18], "nice": false, "zero": false}, "axis": null}, "y2": {"field": "y2"}}},
{"data": {"name": "xTitleBig"}, "mark": {"type": "text", "font": "Roboto", "fontWeight": "bold", "fontSize": 47, "align": "right", "baseline": "alphabetic", "fill": "black"},
 "encoding": {"x": {"field": "x", "type": "quantitative", "scale": {"domain": [0, 105], "nice": false, "zero": false}, "axis": null},
  "y": {"field": "y", "type": "quantitative", "scale": {"domain": [0.04, 0.18], "nice": false, "zero": false}, "axis": null}, "text": {"field": "t"}}},
{"data": {"name": "xTitleSub"}, "mark": {"type": "text", "font": "Roboto", "fontWeight": "bold", "fontSize": 27, "align": "left", "baseline": "alphabetic", "fill": "black"},
 "encoding": {"x": {"field": "x", "type": "quantitative", "scale": {"domain": [0, 105], "nice": false, "zero": false}, "axis": null},
  "y": {"field": "y", "type": "quantitative", "scale": {"domain": [0.04, 0.18], "nice": false, "zero": false}, "axis": null}, "text": {"field": "t"}}},
{"data": {"name": "orange"}, "mark": {"type": "line", "stroke": "#ed7d31", "strokeWidth": 5, "strokeCap": "butt", "strokeJoin": "miter"},
 "encoding": {"x": {"field": "x", "type": "quantitative", "scale": {"domain": [0, 105], "nice": false, "zero": false}, "axis": null},
  "y": {"field": "y", "type": "quantitative", "scale": {"domain": [0.04, 0.18], "nice": false, "zero": false}, "axis": null},
  "order": {"field": "o", "type": "quantitative"}}}
]
}
]
}
